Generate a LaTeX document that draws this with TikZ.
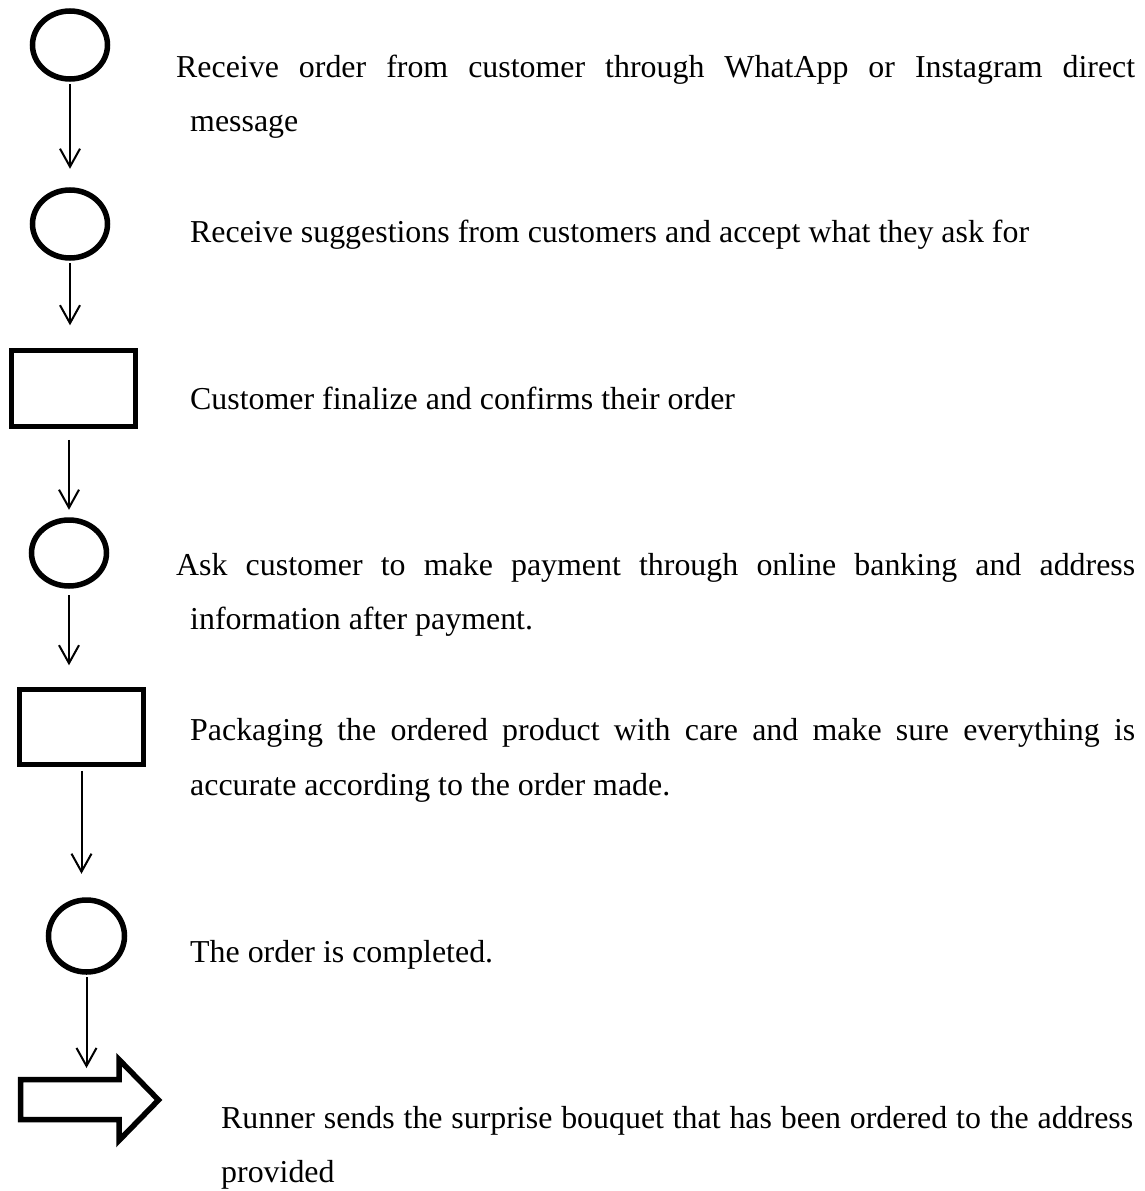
\documentclass[tikz,border=0pt]{standalone}
\usepackage{fontspec}
\setmainfont{Liberation Serif}
\usetikzlibrary{arrows.meta,shapes.geometric}
\begin{document}
\begin{tikzpicture}[x=1pt,y=-1pt,
  circ/.style={draw,ellipse,line width=5.5pt,inner sep=0pt,minimum width=75pt,minimum height=68pt},
  boxn/.style={draw,rectangle,line width=5.5pt,inner sep=0pt,minimum width=124pt,minimum height=76pt},
  conn/.style={line width=2pt,-{Straight Barb[length=18pt,width=20pt]}},
  blockarrow/.style={line width=5.5pt,line join=miter},
  txt/.style={anchor=base west,inner sep=0pt,font=\fontsize{31.9}{38}\selectfont}]
\useasboundingbox (0,0) rectangle (1145,1191);

% shapes
\node[circ] (c1) at (70,45) {};
\node[circ] (c2) at (70,224) {};
\node[boxn] (r1) at (73.5,388.5) {};
\node[circ,minimum height=66pt] (c3) at (69,553) {};
\node[boxn,minimum height=75pt] (r2) at (81.5,727) {};
\node[circ,minimum width=76pt,minimum height=72pt] (c4) at (86.5,936) {};
\draw[blockarrow] (20.5,1079.5) -- (119,1079.5) -- (119,1059.5) -- (158.5,1100)
  -- (119,1140.5) -- (119,1119.5) -- (20.5,1119.5) -- cycle;
\coordinate (batop) at (70,1079.5);

% connectors
\draw[conn,shorten <=2.5pt,shorten >=18.5pt] (c1.south) -- (c2.north);
\draw[conn,shorten <=2.5pt,shorten >=22.5pt] (c2.south) -- (c2.south |- r1.north);
\draw[conn,shorten <=10.5pt,shorten >=7.5pt] (c3 |- r1.south) -- (c3.north);
\draw[conn,shorten <=6.5pt,shorten >=21.5pt] (c3.south) -- (c3.south |- r2.north);
\draw[conn,shorten <=3.5pt,shorten >=23.5pt] (r2.south) -- (r2.south |- c4.north);
\draw[conn,shorten <=2.5pt,shorten >=11.5pt] (c4.south) -- (c4.south |- batop);

% texts
\node[txt] (t1a) at (176,77) {\makebox[959pt][s]{Receive order from customer through WhatApp or Instagram direct}};
\node[txt] (t1b) at (190,131) {message};
\node[txt] (t2) at (190,242) {Receive suggestions from customers and accept what they ask for};
\node[txt] (t3) at (190,409) {Customer finalize and confirms their order};
\node[txt] (t4a) at (176,575) {\makebox[959pt][s]{Ask customer to make payment through online banking and address}};
\node[txt] (t4b) at (190,629) {information after payment.};
\node[txt] (t5a) at (190,740) {\makebox[945pt][s]{Packaging the ordered product with care and make sure everything is}};
\node[txt] (t5b) at (190,795) {accurate according to the order made.};
\node[txt] (t6) at (190,962) {The order is completed.};
\node[txt] (t7a) at (221,1128) {\makebox[912pt][s]{Runner sends the surprise bouquet that has been ordered to the address}};
\node[txt] (t7b) at (221,1182) {provided};
\end{tikzpicture}
\end{document}
